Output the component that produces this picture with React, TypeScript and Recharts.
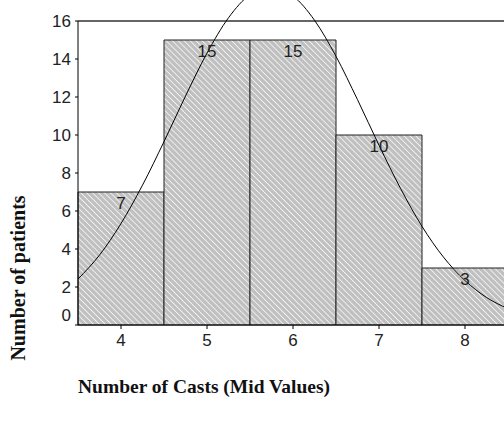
import { Bar, ComposedChart, LabelList, Line, ReferenceLine, XAxis, YAxis } from "recharts";

// histogram bins (mid values) and counts
const casts = [4, 5, 6, 7, 8];
const patients = [7, 15, 15, 10, 3];

// fitted normal curve
const curveX = [3.5, 3.75, 4, 4.25, 4.5, 4.75, 5, 5.25, 5.5, 5.75, 6, 6.25, 6.5, 6.75, 7, 7.25, 7.5, 7.75, 8, 8.25, 8.5];
const curveY = [2.42, 3.68, 5.34, 7.36, 9.65, 12.05, 14.31, 16.17, 17.39, 17.79, 17.32, 16.04, 14.14, 11.86, 9.46, 7.19, 5.19, 3.57, 2.34, 1.45, 0.86];

const yTicks = [0, 2, 4, 6, 8, 10, 12, 14, 16];

const barData = casts.map((x, i) => ({ x, patients: patients[i] }));
const curveData = curveX.map((x, i) => ({ x, curve: curveY[i] }));

const tickFont = { fontFamily: "'Liberation Sans', Arial, sans-serif", fontSize: 17, fill: "#222" };
const titleFont = "'Liberation Serif', 'Times New Roman', serif";

// SPSS lifts the "0" label off the corner
function YTick({ x, y, payload }: any) {
  const lift = payload.value === 0 ? -10 : 0;
  return (
    <text x={x} y={y + lift} textAnchor="end" dominantBaseline="central" {...tickFont}>
      {payload.value}
    </text>
  );
}

export default function App() {
  return (
    <div style={{ position: "fixed", left: 0, top: 0, width: 504, height: 434, overflow: "hidden", background: "#fff" }}>
      <div style={{ marginTop: -18 }}>
        <ComposedChart
          width={520}
          height={452}
          data={barData}
          margin={{ top: 1, right: 12, left: 0, bottom: 79 }}
          barCategoryGap={0}
          barGap={0}
        >
          <defs>
            <pattern id="hatch" width="4.2" height="4.2" patternUnits="userSpaceOnUse" patternTransform="rotate(-45)">
              <rect width="4.2" height="4.2" fill="#c0c0c0" />
              <line x1="0" y1="0" x2="0" y2="4.2" stroke="#ffffff" strokeWidth="1.4" />
            </pattern>
          </defs>
          <XAxis
            dataKey="x"
            type="number"
            domain={[3.5, 8.5]}
            ticks={casts}
            tick={tickFont}
            tickSize={4}
            tickMargin={5}
            axisLine={{ stroke: "#000" }}
            tickLine={{ stroke: "#000" }}
            label={{
              content: ({ viewBox }: any) => (
                <text x={viewBox.x} y={viewBox.y + 64} fontFamily={titleFont} fontSize={19.5} fontWeight="bold" fill="#111" dominantBaseline="middle">
                  Number of Casts (Mid Values)
                </text>
              ),
            }}
          />
          <XAxis xAxisId="curve" dataKey="x" type="number" domain={[3.5, 8.5]} hide />
          <YAxis
            domain={[0, 18]}
            ticks={yTicks}
            width={78}
            tick={<YTick />}
            tickSize={3}
            tickMargin={4}
            axisLine={false}
            tickLine={{ stroke: "#000" }}
            label={{
              content: () => (
                <text
                  x={20}
                  y={296}
                  transform="rotate(-90 20 296)"
                  fontFamily={titleFont}
                  fontSize={20}
                  fontWeight="bold"
                  fill="#111"
                  textAnchor="middle"
                  dominantBaseline="middle"
                >
                  Number of patients
                </text>
              ),
            }}
          />
          <Bar dataKey="patients" fill="url(#hatch)" stroke="#222" strokeWidth={1} isAnimationActive={false}>
            <LabelList dataKey="patients" position="insideTop" offset={5} style={tickFont} />
          </Bar>
          <ReferenceLine y={16} stroke="#666" strokeWidth={2} />
          <ReferenceLine segment={[{ x: 3.5, y: 0 }, { x: 3.5, y: 16 }]} stroke="#000" />
          <Line
            xAxisId="curve"
            data={curveData}
            dataKey="curve"
            type="monotone"
            stroke="#000"
            strokeWidth={1}
            dot={false}
            activeDot={false}
            isAnimationActive={false}
          />
        </ComposedChart>
      </div>
    </div>
  );
}
